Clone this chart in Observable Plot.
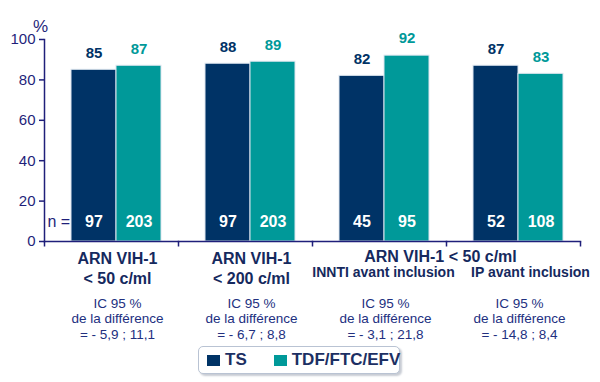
<!DOCTYPE html>
<html><head><meta charset="utf-8">
<script src="https://cdn.jsdelivr.net/npm/d3@7"></script>
<script src="https://cdn.jsdelivr.net/npm/@observablehq/plot@0.6"></script>
<style>
body{margin:0;background:#fff;font-family:"Liberation Sans",Arial,sans-serif;}
#wrap{position:relative;width:600px;height:382px;}
#legend{position:absolute;left:198px;top:346px;width:200px;height:26px;border:1px solid #b9c3d3;border-radius:5px;box-shadow:2px 2px 2px #c8ccd4;background:#fff;display:flex;align-items:center;font-weight:bold;font-size:17px;color:#1c2f63;}
.sw{display:inline-block;width:13px;height:11px;margin-right:5px;}
</style></head><body><div id="wrap"><div id="chart"></div><div id="legend"></div></div>
<script>
const groups = ["g1", "g2", "g3", "g4"];
const series = ["TS", "TDF/FTC/EFV"];
const seriesColors = ["#003366", "#009999"];
const tsValues = [85, 88, 82, 87];
const tdfValues = [87, 89, 92, 83];
const tsN = [97, 97, 45, 52];
const tdfN = [203, 203, 95, 108];
const groupLabels = ["ARN VIH-1\n< 50 c/ml", "ARN VIH-1\n< 200 c/ml", "", ""];
const subLabels = ["", "", "INNTI avant inclusion", "IP avant inclusion"];
const sharedLabel = "ARN VIH-1 < 50 c/ml";
const icLabels = [
  "IC 95 %\nde la différence\n= - 5,9 ; 11,1",
  "IC 95 %\nde la différence\n= - 6,7 ; 8,8",
  "IC 95 %\nde la différence\n= - 3,1 ; 21,8",
  "IC 95 %\nde la différence\n= - 14,8 ; 8,4"
];
const yTicks = [0, 20, 40, 60, 80, 100];

const rows = [];
groups.forEach((g, i) => {
  rows.push({group: g, series: series[0], value: tsValues[i], n: tsN[i]});
  rows.push({group: g, series: series[1], value: tdfValues[i], n: tdfN[i]});
});
const groupRows = groups.map((g, i) => ({group: g, label: groupLabels[i], sub: subLabels[i], ic: icLabels[i]}));

const navy = "#1f1f7a";
const tickSymbol = {draw(ctx, size) { const r = Math.sqrt(size / Math.PI); ctx.moveTo(0, 0); ctx.lineTo(0, r); }};

const chart = Plot.plot({
  width: 600, height: 342,
  marginLeft: 43, marginRight: 20, marginTop: 39, marginBottom: 101,
  style: {fontFamily: "'Liberation Sans', Arial, sans-serif", background: "white"},
  fx: {domain: groups, padding: 0, axis: null, label: null},
  x: {domain: series, paddingInner: 0, paddingOuter: 0.475, align: 0.61, axis: null},
  y: {domain: [0, 100], axis: null},
  color: {domain: series, range: seriesColors},
  marks: [
    Plot.barY(rows, {fx: "group", x: "series", y: "value", fill: "series", stroke: "#dde6ef", strokeWidth: 1}),
    Plot.frame({anchor: "bottom", stroke: navy, strokeWidth: 1.5}),
    Plot.frame({anchor: "left", facetAnchor: "left", stroke: navy, strokeWidth: 1.5}),
    Plot.axisY({ticks: yTicks, tickSize: 5, tickPadding: 4, fontSize: 15, color: navy, label: null, strokeWidth: 1.5}),
    Plot.dot(groupRows, {fx: "group", frameAnchor: "bottom-left", symbol: tickSymbol, r: 5, stroke: navy, strokeWidth: 1.5, fill: "none"}),
    Plot.dot(groupRows.slice(3), {fx: "group", frameAnchor: "bottom-right", symbol: tickSymbol, r: 5, stroke: navy, strokeWidth: 1.5, fill: "none"}),
    Plot.text(rows, {fx: "group", x: "series", y: "value", text: d => String(d.value), dy: -17, fill: "series", fontWeight: "bold", fontSize: 15}),
    Plot.text(rows, {fx: "group", x: "series", frameAnchor: "bottom", text: d => String(d.n), dy: -15, fill: "white", fontWeight: "bold", fontSize: 16}),
    Plot.text(groupRows.slice(0, 1), {fx: "group", frameAnchor: "bottom-left", text: () => "n =", textAnchor: "start", dx: 3, dy: -15, fill: navy, fontSize: 16}),
    Plot.text(groupRows.slice(0, 1), {fx: "group", frameAnchor: "top-left", text: () => "%", textAnchor: "middle", dx: -4, dy: -20, fill: navy, fontSize: 17}),
    Plot.text(groupRows, {fx: "group", frameAnchor: "bottom", text: "label", lineAnchor: "top", dx: 6, dy: 9, lineHeight: 1.22, fill: "#15295e", fontWeight: "bold", fontSize: 16}),
    Plot.text(groupRows.slice(3), {fx: "group", frameAnchor: "bottom-left", text: () => sharedLabel, textAnchor: "middle", lineAnchor: "top", dx: -6, dy: 9, fill: "#15295e", fontWeight: "bold", fontSize: 16}),
    Plot.text(groupRows.slice(2, 3), {fx: "group", frameAnchor: "bottom", text: "sub", lineAnchor: "top", dx: 4, dy: 26, fill: "#15295e", fontWeight: "bold", fontSize: 14}),
    Plot.text(groupRows.slice(3), {fx: "group", frameAnchor: "bottom", text: "sub", lineAnchor: "top", dx: 17, dy: 26, fill: "#15295e", fontWeight: "bold", fontSize: 14}),
    Plot.text(groupRows, {fx: "group", frameAnchor: "bottom", text: "ic", lineAnchor: "top", dx: 6, dy: 55, lineHeight: 1.15, fill: "#22307f", fontSize: 13.5})
  ]
});
document.getElementById("chart").appendChild(chart);

const legend = document.getElementById("legend");
series.forEach((s, i) => {
  const item = document.createElement("span");
  item.style.display = "inline-flex";
  item.style.alignItems = "center";
  item.style.marginLeft = i === 0 ? "8px" : "27px";
  item.innerHTML = `<span class="sw" style="background:${seriesColors[i]}"></span>${s}`;
  legend.appendChild(item);
});
</script></body></html>
